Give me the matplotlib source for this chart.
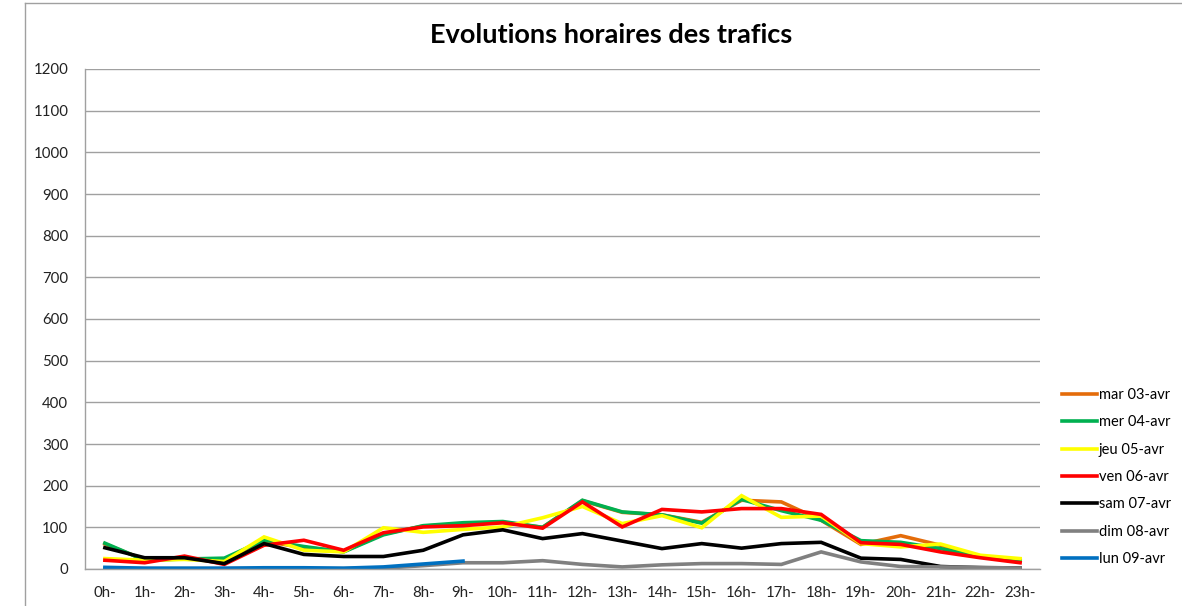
import matplotlib
matplotlib.use("Agg")
import matplotlib.pyplot as plt
from matplotlib.lines import Line2D

hours = [f"{h}h-" for h in range(24)]

mar = [60, 22, 24, 24, 66, 52, 42, 84, 103, 108, 112, 100, 164, 136, 130, 112, 165, 161, 117, 59, 80, 57, 30, 21]
mer = [62, 21, 24, 26, 69, 54, 41, 82, 104, 111, 114, 100, 165, 137, 130, 110, 167, 140, 117, 68, 64, 49, 29, 20]
jeu = [25, 21, 23, 18, 77, 45, 41, 99, 88, 95, 101, 123, 150, 109, 128, 99, 176, 124, 127, 61, 53, 60, 33, 25]
ven = [21, 15, 31, 11, 57, 69, 45, 87, 101, 104, 111, 98, 161, 101, 143, 137, 145, 145, 131, 63, 59, 41, 27, 15]
sam = [51, 27, 27, 13, 61, 35, 30, 30, 45, 82, 94, 73, 85, 67, 49, 61, 50, 61, 64, 26, 23, 6, 3, 2]
dim = [1, 1, 1, 1, 1, 1, 1, 2, 8, 15, 15, 20, 11, 5, 10, 13, 13, 11, 41, 17, 6, 5, 4, 2]
lun = [4, 2, 2, 2, 3, 3, 2, 5, 12, 19]

series = [
    ("mar 03-avr", mar, "#E46C0A"),
    ("mer 04-avr", mer, "#00B050"),
    ("jeu 05-avr", jeu, "#FFFF00"),
    ("ven 06-avr", ven, "#FF0000"),
    ("sam 07-avr", sam, "#000000"),
    ("dim 08-avr", dim, "#808080"),
    ("lun 09-avr", lun, "#0070C0"),
]
yticks = list(range(0, 1300, 100))

plt.rcParams['font.family'] = ['Lato', 'DejaVu Sans']
fig = plt.figure(figsize=(11.82, 6.06), dpi=100)
ax = fig.add_axes([85/1182, 1-569/606, (1040-85)/1182, (569-69)/606])

handles = []
for label, vals, col in series:
    h, = ax.plot(range(len(vals)), vals, color=col, lw=2.6, label=label, solid_joinstyle='miter')
    handles.append(h)

ax.set_xlim(-0.5, 23.5)
ax.set_ylim(0, 1200)
ax.set_yticks(yticks)
ax.set_xticks(range(24))
ax.set_xticklabels(hours)
ax.tick_params(axis='both', length=0, labelsize=10.8, colors='#222222')
ax.tick_params(axis='y', pad=12)
ax.tick_params(axis='x', pad=12)
ax.grid(axis='y', color='#A0A0A0', lw=1)
ax.set_axisbelow(True)
for s in ['top', 'right']:
    ax.spines[s].set_visible(False)
for s in ['left', 'bottom']:
    ax.spines[s].set_color('#A0A0A0')
    ax.spines[s].set_linewidth(1)

fig.legend(handles=handles, loc='upper left', bbox_to_anchor=(1056/1182, 1-382/606),
           frameon=False, fontsize=10.5, handlelength=2.4, handletextpad=0.12,
           labelspacing=0.92, borderaxespad=0)

fig.text(611/1182, 1-35/606, "Evolutions horaires des trafics", ha='center', va='center',
         fontsize=19.5, fontweight='bold')

fig.add_artist(Line2D([25/1182, 25/1182], [0, 1-3/606], color='#A0A0A0', lw=1, transform=fig.transFigure))
fig.add_artist(Line2D([25/1182, 1], [1-3/606, 1-3/606], color='#A0A0A0', lw=1, transform=fig.transFigure))

fig.savefig("out.png", dpi=100)
